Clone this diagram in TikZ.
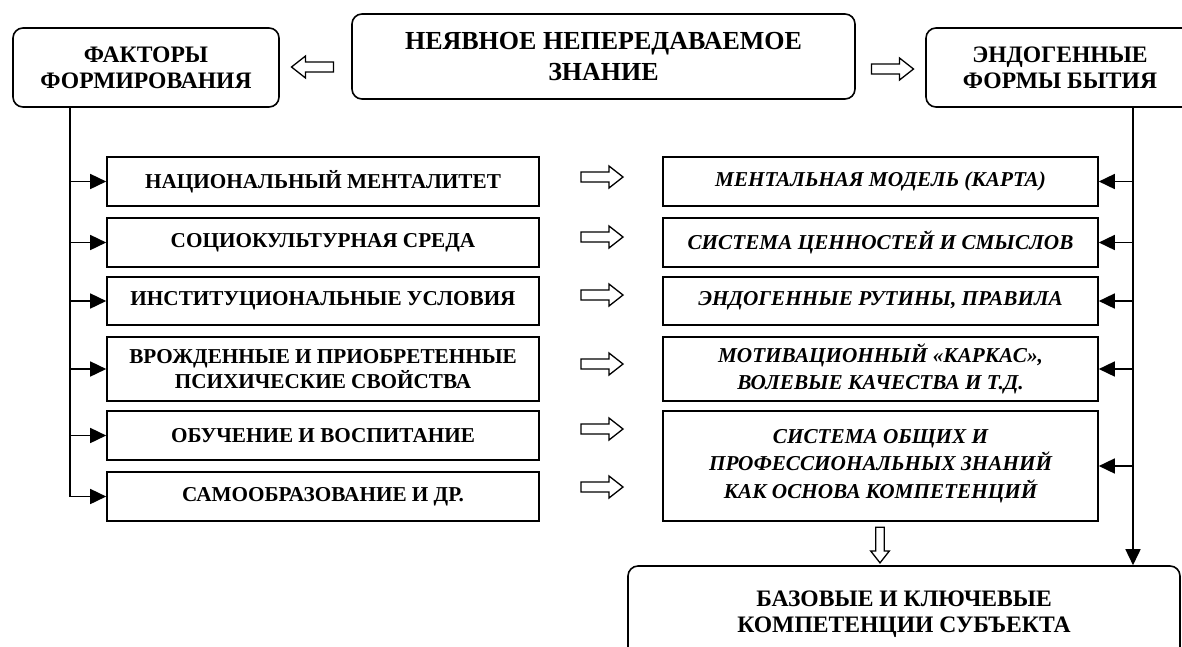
\documentclass[tikz,border=0pt]{standalone}
\usepackage{fontspec}
\setmainfont{Liberation Serif}
\usetikzlibrary{arrows.meta}
\tikzset{
  bx/.style={draw, line width=1.6pt, inner sep=0pt, align=center},
  titlebox/.style={bx, rounded corners=10pt, font=\fontsize{23.6}{26}\selectfont\bfseries},
  factor/.style={bx, minimum width=432pt, font=\fontsize{21.2}{25}\selectfont\bfseries},
  form/.style={bx, minimum width=435pt, font=\fontsize{21.2}{27.5}\selectfont\bfseries\itshape},
  link/.style={line width=1.6pt, -{Triangle[length=16pt,width=15pt]}},
  harrow/.pic={\draw[line width=1.3pt, fill=white, line join=miter]
     (-21,-5) -- (7,-5) -- (7,-11) -- (21,0) -- (7,11) -- (7,5) -- (-21,5) -- cycle;}
}
\begin{document}
\begin{tikzpicture}[x=1pt, y=-1pt]
\useasboundingbox (0,0) rectangle (1182,646);
\clip (0,0) rectangle (1182,646);

% top row
\node[titlebox, minimum width=266pt, minimum height=79pt] (facts) at (146,67.5) {ФАКТОРЫ\\ФОРМИРОВАНИЯ};
\node[titlebox, minimum width=503pt, minimum height=85pt, font=\fontsize{26}{31}\selectfont\bfseries] (core) at (603.5,56.5) {НЕЯВНОЕ НЕПЕРЕДАВАЕМОЕ\\ЗНАНИЕ};
\node[titlebox, minimum width=268pt, minimum height=79pt] (endo) at (1060,67.5) {ЭНДОГЕННЫЕ\\ФОРМЫ БЫТИЯ};

% left column
\node[factor, minimum height=49pt] (l1) at (323,181.5) {НАЦИОНАЛЬНЫЙ МЕНТАЛИТЕТ};
\node[factor, minimum height=49pt] (l2) at (323,242.5) {СОЦИОКУЛЬТУРНАЯ СРЕДА};
\node[factor, minimum height=48pt] (l3) at (323,301) {ИНСТИТУЦИОНАЛЬНЫЕ УСЛОВИЯ};
\node[factor, minimum height=64pt] (l4) at (323,369) {ВРОЖДЕННЫЕ И ПРИОБРЕТЕННЫЕ\\ПСИХИЧЕСКИЕ СВОЙСТВА};
\node[factor, minimum height=49pt] (l5) at (323,435.5) {ОБУЧЕНИЕ И ВОСПИТАНИЕ};
\node[factor, minimum height=49pt] (l6) at (323,496.5) {САМООБРАЗОВАНИЕ И ДР.};

% right column
\node[form, minimum height=49pt] (r1) at (880.5,181.5) {МЕНТАЛЬНАЯ МОДЕЛЬ (КАРТА)};
\node[form, minimum height=49pt] (r2) at (880.5,242.5) {СИСТЕМА ЦЕННОСТЕЙ И СМЫСЛОВ};
\node[form, minimum height=48pt] (r3) at (880.5,301) {ЭНДОГЕННЫЕ РУТИНЫ, ПРАВИЛА};
\node[form, minimum height=64pt] (r4) at (880.5,369) {МОТИВАЦИОННЫЙ «КАРКАС»,\\ВОЛЕВЫЕ КАЧЕСТВА И Т.Д.};
\node[form, minimum height=110pt] (r5) at (880.5,466) {СИСТЕМА ОБЩИХ И\\ПРОФЕССИОНАЛЬНЫХ ЗНАНИЙ\\КАК ОСНОВА КОМПЕТЕНЦИЙ};

% bottom
\node[titlebox, minimum width=552pt, minimum height=96pt] (base) at (904,614) {БАЗОВЫЕ И КЛЮЧЕВЫЕ\\КОМПЕТЕНЦИИ СУБЪЕКТА};

% trunk lines
\coordinate (lx) at (70,0);
\coordinate (rx) at (1133,0);
\draw[link] (facts.south -| lx) |- (l6.west);
\foreach \i in {1,...,5} \draw[link] (l\i.west -| lx) -- (l\i.west);
\draw[link] (endo.south -| rx) -- (base.north -| rx);
\foreach \i in {1,...,5} \draw[link] (r\i.east -| rx) -- (r\i.east);

% hollow arrows
\pic[rotate=180] at (312.5,67) {harrow};
\pic at (892.5,69) {harrow};
\foreach \yy in {177,237,295,364,429,487} \pic at (602,\yy) {harrow};
\pic[rotate=-90, scale=0.85] at (880,545) {harrow};
\end{tikzpicture}
\end{document}
